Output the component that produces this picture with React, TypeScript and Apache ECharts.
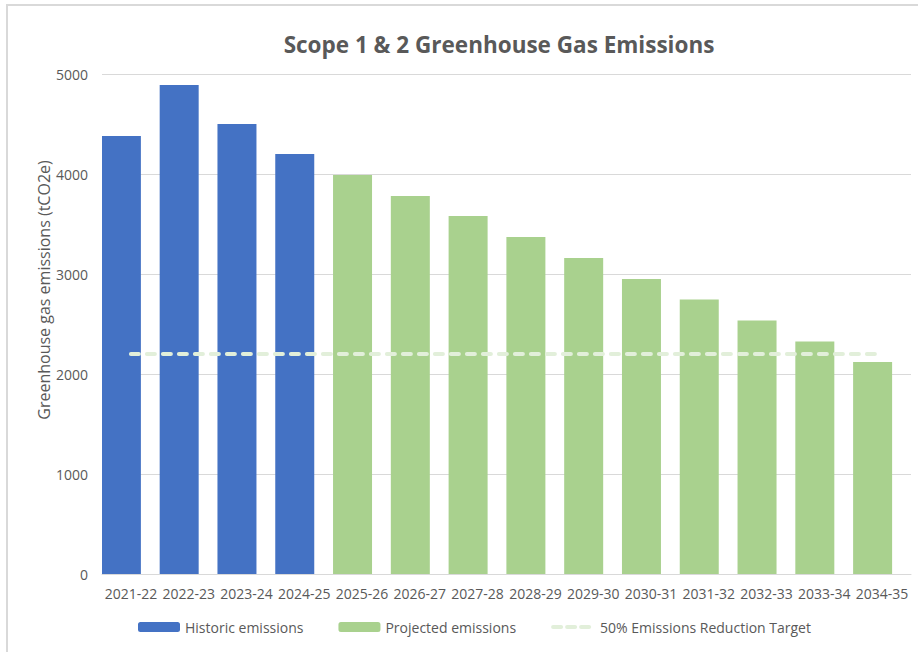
import React, { useEffect, useRef } from "react";
import * as echarts from "echarts";

const categories = [
  "2021-22", "2022-23", "2023-24", "2024-25", "2025-26", "2026-27", "2027-28",
  "2028-29", "2029-30", "2030-31", "2031-32", "2032-33", "2033-34", "2034-35",
];
const historic = [4380, 4890, 4500, 4200, "-", "-", "-", "-", "-", "-", "-", "-", "-", "-"];
const projected = ["-", "-", "-", "-", 3990, 3780, 3580, 3370, 3160, 2950, 2745, 2535, 2325, 2120];
const target = [2200, 2200, 2200, 2200, 2200, 2200, 2200, 2200, 2200, 2200, 2200, 2200, 2200, 2200];
const yTicks = { min: 0, max: 5000, interval: 1000 };

const FONT = "'Open Sans', 'DejaVu Sans', sans-serif";
const GREY = "#595959";

export default function App() {
  const ref = useRef<HTMLDivElement>(null);
  useEffect(() => {
    if (!ref.current) return;
    const chart = echarts.init(ref.current, undefined, { renderer: "svg" });
    chart.setOption({
      animation: false,
      backgroundColor: "#ffffff",
      textStyle: { fontFamily: FONT },
      title: {
        text: "Scope 1 & 2 Greenhouse Gas Emissions",
        left: 494,
        top: 28,
        textAlign: "center",
        textStyle: { fontFamily: FONT, fontSize: 22.5, fontWeight: "bold", color: GREY },
      },
      graphic: [
        {
          type: "rect",
          shape: { x: 7, y: 5, width: 1000, height: 1000 },
          style: { fill: "none", stroke: "#D9D9D9", lineWidth: 2 },
          silent: true,
        },
        {
          type: "text",
          x: 44,
          y: 290,
          rotation: Math.PI / 2,
          style: {
            text: "Greenhouse gas emissions (tCO2e)",
            fontFamily: FONT,
            fontSize: 16,
            fill: GREY,
            textAlign: "center",
            textVerticalAlign: "middle",
          },
        },
      ],
      legend: {
        left: 138,
        top: 620,
        padding: 0,
        itemWidth: 42,
        itemHeight: 10,
        itemGap: 35,
        data: [
          "Historic emissions",
          "Projected emissions",
          {
            name: "50% Emissions Reduction Target",
            itemStyle: { opacity: 0 },
            lineStyle: { width: 4, type: [8, 6], cap: "round", color: "#E2EFDA" },
          },
        ],
        textStyle: { fontFamily: FONT, fontSize: 14, color: GREY },
      },
      grid: { left: 102, right: 7, top: 74, bottom: 78, containLabel: false },
      xAxis: {
        type: "category",
        data: categories,
        axisLine: { lineStyle: { color: "#D9D9D9", width: 1 } },
        axisTick: { show: false },
        axisLabel: { color: GREY, fontFamily: FONT, fontSize: 14, margin: 12, interval: 0 },
      },
      yAxis: {
        type: "value",
        min: yTicks.min,
        max: yTicks.max,
        interval: yTicks.interval,
        axisLine: { show: false },
        axisTick: { show: false },
        axisLabel: {
          color: GREY,
          fontFamily: FONT,
          fontSize: 14,
          margin: 14,
          formatter: (v: number) => String(v),
        },
        splitLine: { lineStyle: { color: "#D9D9D9", width: 1 } },
      },
      series: [
        {
          name: "Historic emissions",
          type: "bar",
          stack: "e",
          data: historic,
          barWidth: 39,
          itemStyle: { color: "#4472C4" },
        },
        {
          name: "Projected emissions",
          type: "bar",
          stack: "e",
          data: projected,
          barWidth: 39,
          itemStyle: { color: "#A9D18E" },
        },
        {
          name: "spacer",
          type: "bar",
          data: categories.map(() => "-"),
          barWidth: 19,
          barGap: 0,
          itemStyle: { color: "transparent" },
        },
        {
          name: "50% Emissions Reduction Target",
          type: "line",
          data: target,
          symbol: "none",
          z: 5,
          itemStyle: { color: "#E2EFDA" },
          lineStyle: { color: "#E2EFDA", width: 4, type: [8, 8], cap: "round" },
        },
      ],
    });
    return () => chart.dispose();
  }, []);
  return (
    <div
      ref={ref}
      style={{ position: "absolute", left: 0, top: 0, width: 918, height: 652 }}
    />
  );
}
